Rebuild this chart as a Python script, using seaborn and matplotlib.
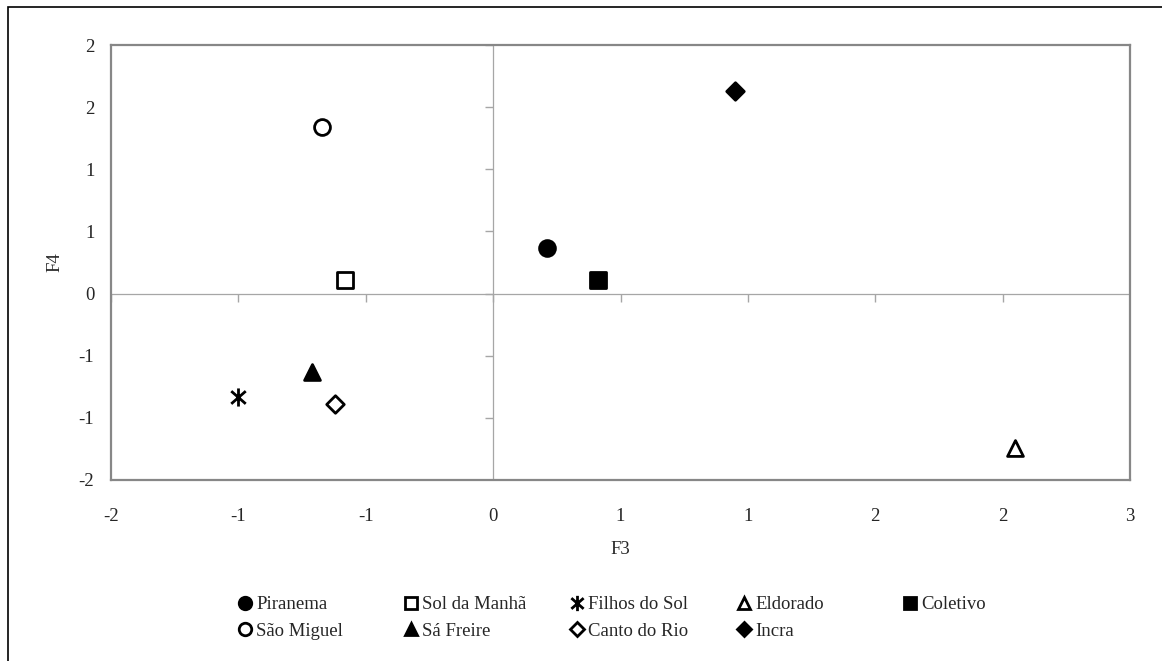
import matplotlib
matplotlib.use("Agg")
import matplotlib.pyplot as plt
import matplotlib.ticker as mticker
from matplotlib.lines import Line2D
from matplotlib.patches import Rectangle
from matplotlib.path import Path
import pandas as pd
import seaborn as sns

# Data
sites = ["Piranema", "Sol da Manhã", "Filhos do Sol", "Eldorado", "Coletivo",
         "São Miguel", "Sá Freire", "Canto do Rio", "Incra"]
f3 = [0.21, -0.58, -1.00, 2.05, 0.41, -0.67, -0.71, -0.62, 0.95]
f4 = [0.37, 0.11, -0.83, -1.24, 0.11, 1.34, -0.63, -0.89, 1.63]

x_ticks = [-1.5, -1.0, -0.5, 0.0, 0.5, 1.0, 1.5, 2.0, 2.5]
x_tick_labels = ["-2", "-1", "-1", "0", "1", "1", "2", "2", "3"]
y_ticks = [-1.5, -1.0, -0.5, 0.0, 0.5, 1.0, 1.5, 2.0]
y_tick_labels = ["-2", "-1", "-1", "0", "1", "1", "2", "2"]

# asterisk: vertical bar plus two diagonals
star = Path([(0, -1), (0, 1), (-0.8, -0.7), (0.8, 0.7), (-0.8, 0.7), (0.8, -0.7)],
            [Path.MOVETO, Path.LINETO] * 3)

# marker, filled?
styles = {
    "Piranema": ("o", True),
    "Sol da Manhã": ("s", False),
    "Filhos do Sol": (star, True),
    "Eldorado": ("^", False),
    "Coletivo": ("s", True),
    "São Miguel": ("o", False),
    "Sá Freire": ("^", True),
    "Canto do Rio": ("D", False),
    "Incra": ("D", True),
}
sizes = {"o": 130, "s": 130, "^": 130, "D": 80}

df = pd.DataFrame({"site": sites, "F3": f3, "F4": f4})

sns.set_style("white")
plt.rcParams["font.family"] = ["Liberation Serif", "DejaVu Serif"]
plt.rcParams["font.size"] = 13.5

fig = plt.figure(figsize=(11.62, 6.61), dpi=100)
ax = fig.add_axes([111 / 1162, 1 - 480 / 661, (1130 - 111) / 1162, (480 - 45) / 661])

gray = "#a6a6a6"
ax.axhline(0, color=gray, lw=0.9, zorder=1)
ax.axvline(0, color=gray, lw=0.9, zorder=1)
# small tick marks on the zero axes
ax.plot(x_ticks, [0] * len(x_ticks), ls="", marker=3, ms=6, mew=1.0, color=gray, zorder=1)
ax.plot([0] * len(y_ticks), y_ticks, ls="", marker=0, ms=6, mew=1.0, color=gray, zorder=1)

handles = {}
for site in sites:
    m, filled = styles[site]
    sub = df[df["site"] == site]
    if isinstance(m, Path):
        sns.scatterplot(data=sub, x="F3", y="F4", marker=m, s=170, color="black",
                        edgecolor="black", linewidth=2.0, ax=ax, zorder=3, legend=False)
        handles[site] = Line2D([], [], ls="", marker=m, ms=11, color="black", mew=2.0)
    else:
        sns.scatterplot(data=sub, x="F3", y="F4", marker=m, s=sizes[m],
                        facecolor="black" if filled else "white", edgecolor="black",
                        linewidth=2.0, ax=ax, zorder=3, legend=False)
        handles[site] = Line2D([], [], ls="", marker=m, ms=9 if m != "D" else 7,
                               mfc="black" if filled else "white", mec="black", mew=2.0)

ax.set_xlim(-1.5, 2.5)
ax.set_ylim(-1.5, 2.0)
ax.xaxis.set_major_locator(mticker.FixedLocator(x_ticks))
ax.xaxis.set_major_formatter(mticker.FixedFormatter(x_tick_labels))
ax.yaxis.set_major_locator(mticker.FixedLocator(y_ticks))
ax.yaxis.set_major_formatter(mticker.FixedFormatter(y_tick_labels))
ax.tick_params(axis="x", length=0, pad=20, labelsize=13.5)
ax.tick_params(axis="y", length=0, pad=12, labelsize=13.5)
for sp in ax.spines.values():
    sp.set_visible(True)
    sp.set_color("#878787")
    sp.set_linewidth(1.6)

ax.set_xlabel("F3", fontsize=13.5, labelpad=12)
ax.set_ylabel("F4", fontsize=13.5, labelpad=11)

# legend: five equal-width columns, filled row by row
columns = [["Piranema", "São Miguel"], ["Sol da Manhã", "Sá Freire"],
           ["Filhos do Sol", "Canto do Rio"], ["Eldorado", "Incra"], ["Coletivo"]]
col_centers = [245, 411, 577, 744, 910]
for names, cx in zip(columns, col_centers):
    fig.legend([handles[s] for s in names], names, loc="upper left",
               bbox_to_anchor=((cx - 8.5) / 1162, 1 - 596 / 661), frameon=False,
               fontsize=13.5, handlelength=0.9, handletextpad=0.15,
               labelspacing=0.5, borderpad=0, borderaxespad=0)

# outer chart border (cut at right and bottom)
fig.add_artist(Rectangle((8 / 1162, -0.1), 1.2, 1.1 - 7 / 661, transform=fig.transFigure,
                         fill=False, edgecolor="black", lw=1.2))

fig.savefig("out.png", dpi=100)
